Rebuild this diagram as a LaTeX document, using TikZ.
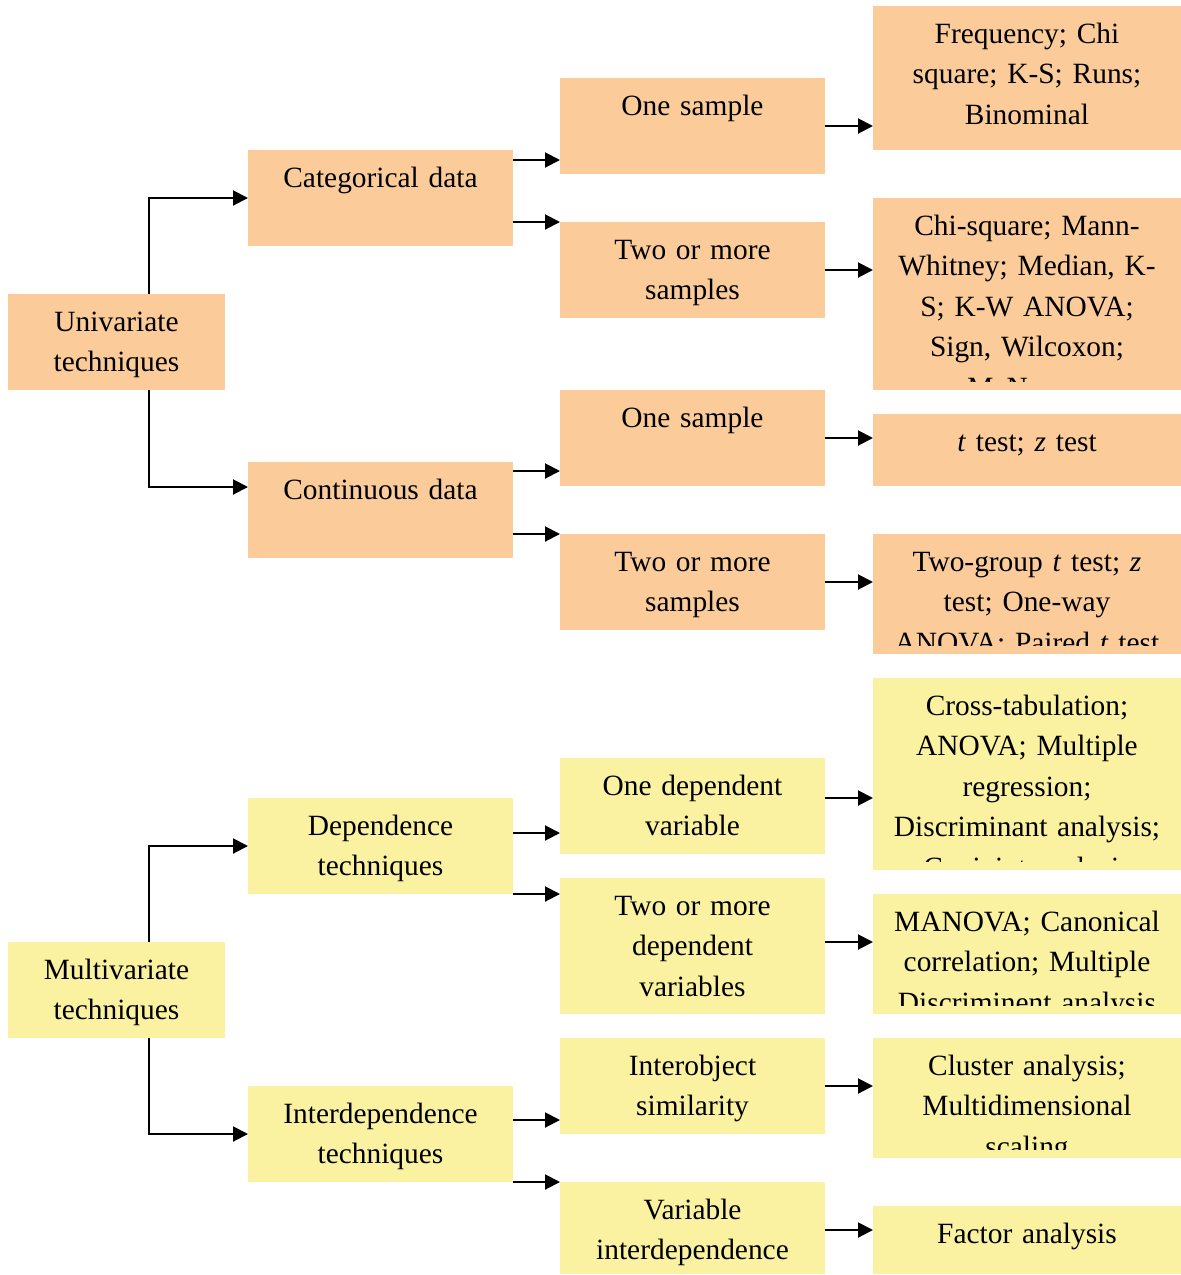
\documentclass[tikz,border=0pt]{standalone}
\usepackage{fontspec}
\setmainfont{Liberation Serif}
\usetikzlibrary{arrows.meta}
\setlength{\parindent}{0pt}

\definecolor{unifill}{RGB}{251,204,153}
\definecolor{multifill}{RGB}{250,242,160}

% box: name, colour, left, top, right, bottom (px), text
\newcommand\techbox[7]{%
  \pgfmathsetmacro\bw{(#5-#3)*0.5}%
  \pgfmathsetmacro\bh{(#6-#4)*0.5}%
  \pgfmathsetmacro\tw{(#5-#3-18)*0.5}%
  \node[tbox, fill=#2, minimum width=\bw pt, minimum height=\bh pt]
    (#1) at ({(#3+#5)/2},{(#4+#6)/2}) {};
  \begin{scope}
    \clip ([shift={(9,9)}]#1.north west) rectangle ([shift={(-9,-9)}]#1.south east);
    \node[ttext, text width=\tw pt] (#1-t) at ([yshift=-4.3pt]#1.north) {\strut #7};
  \end{scope}}

\begin{document}
\begin{tikzpicture}[x=0.5pt,y=-0.5pt,
    tbox/.style={draw=none,inner sep=0,outer sep=0},
    ttext/.style={anchor=north,align=center,inner sep=0,
      font=\fontsize{14.7}{20.25}\selectfont},
    arr/.style={line width=1pt,-{Triangle[length=7.5pt,width=7.5pt]}}]
  \useasboundingbox (0,0) rectangle (1180,1275);
  % univariate
  \techbox{uni}{unifill}{8}{294}{225}{390}{Univariate\\techniques}
  \techbox{cat}{unifill}{248}{150}{513}{246}{Categorical data}
  \techbox{cont}{unifill}{248}{462}{513}{558}{Continuous data}
  \techbox{os1}{unifill}{560}{78}{825}{174}{One sample}
  \techbox{tm1}{unifill}{560}{222}{825}{318}{Two or more\\samples}
  \techbox{os2}{unifill}{560}{390}{825}{486}{One sample}
  \techbox{tm2}{unifill}{560}{534}{825}{630}{Two or more\\samples}
  \techbox{freq}{unifill}{873}{6}{1181}{150}{Frequency; Chi\\square; K-S; Runs;\\Binominal}
  \techbox{chisq}{unifill}{873}{198}{1181}{390}{Chi-square; Mann-\\Whitney; Median, K-\\S; K-W ANOVA;\\Sign, Wilcoxon;\\McNemar}
  \techbox{ttest}{unifill}{873}{414}{1181}{486}{\textit{t} test; \textit{z} test}
  \techbox{twogrp}{unifill}{873}{534}{1181}{654}{Two-group \textit{t} test; \textit{z}\\test; One-way\\ANOVA; Paired \textit{t} test}
  %
  % multivariate
  \techbox{multi}{multifill}{8}{942}{225}{1038}{Multivariate\\techniques}
  \techbox{dep}{multifill}{248}{798}{513}{894}{Dependence\\techniques}
  \techbox{inter}{multifill}{248}{1086}{513}{1182}{Interdependence\\techniques}
  \techbox{od}{multifill}{560}{758}{825}{854}{One dependent\\variable}
  \techbox{tmd}{multifill}{560}{878}{825}{1014}{Two or more\\dependent\\variables}
  \techbox{io}{multifill}{560}{1038}{825}{1134}{Interobject\\similarity}
  \techbox{vi}{multifill}{560}{1182}{825}{1274}{Variable\\interdependence}
  \techbox{xtab}{multifill}{873}{678}{1181}{870}{Cross-tabulation;\\ANOVA; Multiple\\regression;\\Discriminant analysis;\\Conjoint analysis}
  \techbox{manova}{multifill}{873}{894}{1181}{1014}{MANOVA; Canonical\\correlation; Multiple\\Discriminent analysis}
  \techbox{clust}{multifill}{873}{1038}{1181}{1158}{Cluster analysis;\\Multidimensional\\scaling}
  \techbox{factor}{multifill}{873}{1206}{1181}{1274}{Factor analysis}
  %
  % trunks
  \draw[arr] ([xshift=16.25pt]uni.north) |- (cat.west);
  \draw[arr] ([xshift=16.25pt]uni.south) |- ([yshift=-12.5pt]cont.north west);
  \draw[arr] ([xshift=16.25pt]multi.north) |- (dep.west);
  \draw[arr] ([xshift=16.25pt]multi.south) |- (inter.west);
  %
  % second column
  \draw[arr] ([yshift=-5pt]cat.north east) -- ([yshift=-5pt]cat.north east -| os1.west);
  \draw[arr] (cat.east |- tm1.north) -- (tm1.north west);
  \draw[arr] ([yshift=-4.5pt]cont.north east) -- ([yshift=-4.5pt]cont.north east -| os2.west);
  \draw[arr] (cont.east |- tm2.north) -- (tm2.north west);
  \draw[arr] ([yshift=-17.5pt]dep.north east) -- ([yshift=-17.5pt]dep.north east -| od.west);
  \draw[arr] (dep.south east) -- (dep.south east -| tmd.west);
  \draw[arr] ([yshift=-17pt]inter.north east) -- ([yshift=-17pt]inter.north east -| io.west);
  \draw[arr] (inter.south east) -- (vi.north west);
  %
  % third column
  \foreach \a/\b/\s in {os1/freq/0,tm1/chisq/0,os2/ttest/0,tm2/twogrp/0,
                        od/xtab/4,tmd/manova/2,io/clust/0,vi/factor/-1}
    \draw[arr] ([yshift=\s pt]\a.east) -- ([yshift=\s pt]\a.east -| \b.west);
\end{tikzpicture}
\end{document}
